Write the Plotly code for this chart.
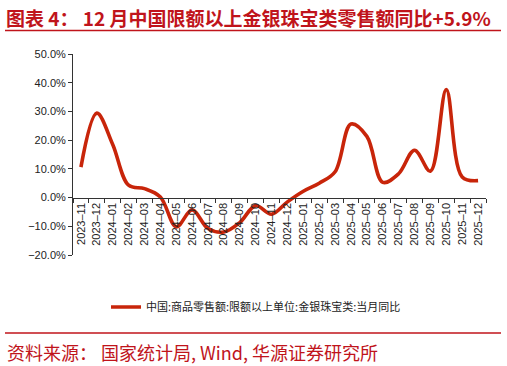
import plotly.graph_objects as go

months = ["2023–11", "2023–12", "2024–01", "2024–02", "2024–03", "2024–04", "2024–05",
          "2024–06", "2024–07", "2024–08", "2024–09", "2024–10", "2024–11", "2024–12",
          "2025–01", "2025–02", "2025–03", "2025–04", "2025–05", "2025–06", "2025–07",
          "2025–08", "2025–09", "2025–10", "2025–11", "2025–12"]
yoy = [10.6, 29.4, 18.5, 4.3, 3.1, 0.2, -10.2,
       -4.3, -10.8, -12.0, -8.7, -2.8, -5.8, -1.5,
       2.2, 5.0, 9.0, 25.6, 21.3, 5.3, 8.3,
       16.5, 9.2, 37.6, 7.2, 5.9]
series_name = "中国:商品零售额:限额以上单位:金银珠宝类:当月同比"
y_ticks = [-20, -10, 0, 10, 20, 30, 40, 50]
y_tick_text = ["−20.0%", "−10.0%", "0.0%", "10.0%", "20.0%", "30.0%", "40.0%", "50.0%"]

title_text = "图表 4： 12 月中国限额以上金银珠宝类零售额同比+5.9%"
source_text = "资料来源： 国家统计局, Wind, 华源证券研究所"

RED = "#C8250A"
TITLE_RED = "#C0141B"

L, R, T, B = 73, 21, 54, 111
W, H = 507, 366
PW, PH = W - L - R, H - T - B

def px_x(px):
    return (px - L) / PW

def px_y(py):
    return (H - B - py) / PH

fig = go.Figure()
fig.add_trace(go.Scatter(
    x=months, y=yoy, mode="lines", name=series_name,
    line=dict(color=RED, width=3.6, shape="spline", smoothing=1.0),
))

fig.update_layout(
    width=W, height=H,
    margin=dict(l=L, r=R, t=T, b=B, autoexpand=False),
    paper_bgcolor="white", plot_bgcolor="white",
    font=dict(family="Liberation Sans, Arial, sans-serif", size=11, color="#222"),
    showlegend=True,
    legend=dict(orientation="h", x=px_x(256), xanchor="center", y=px_y(307), yanchor="middle",
                font=dict(family="Noto Sans CJK SC", size=11, color="#222"),
                bgcolor="rgba(0,0,0,0)", itemwidth=30),
    xaxis=dict(type="category", range=[-0.5, len(months) - 0.5],
               anchor="free", position=20 / 70,
               showline=True, linecolor="#333", linewidth=1,
               ticks="outside", tickson="boundaries", ticklen=4, tickcolor="#333",
               tickangle=-90, showgrid=False, zeroline=False,
               tickfont=dict(size=11, color="#222")),
    yaxis=dict(range=[-20, 50], tickvals=y_ticks, ticktext=y_tick_text,
               showline=True, linecolor="#333", linewidth=1,
               ticks="outside", ticklen=4, tickcolor="#333",
               showgrid=False, zeroline=False,
               tickfont=dict(size=11, color="#222")),
)

fig.add_annotation(xref="paper", yref="paper", x=px_x(4), y=px_y(18), xanchor="left", yanchor="middle",
                   text="<b>" + title_text + "</b>", showarrow=False,
                   font=dict(family="Noto Sans CJK SC", size=19, color=TITLE_RED))
fig.add_shape(type="line", xref="paper", yref="paper", x0=px_x(5), x1=px_x(501), y0=px_y(30.5), y1=px_y(30.5),
              line=dict(color=TITLE_RED, width=1.5))
fig.add_shape(type="line", xref="paper", yref="paper", x0=px_x(5), x1=px_x(501), y0=px_y(333), y1=px_y(333),
              line=dict(color=TITLE_RED, width=1.5))
fig.add_annotation(xref="paper", yref="paper", x=px_x(5), y=px_y(352), xanchor="left", yanchor="middle",
                   text=source_text, showarrow=False,
                   font=dict(family="Noto Sans CJK SC", size=18, color=TITLE_RED))

fig.write_html("out.html", config={"displayModeBar": False},
               post_script="document.body.style.margin='0';document.body.style.overflow='hidden';")
